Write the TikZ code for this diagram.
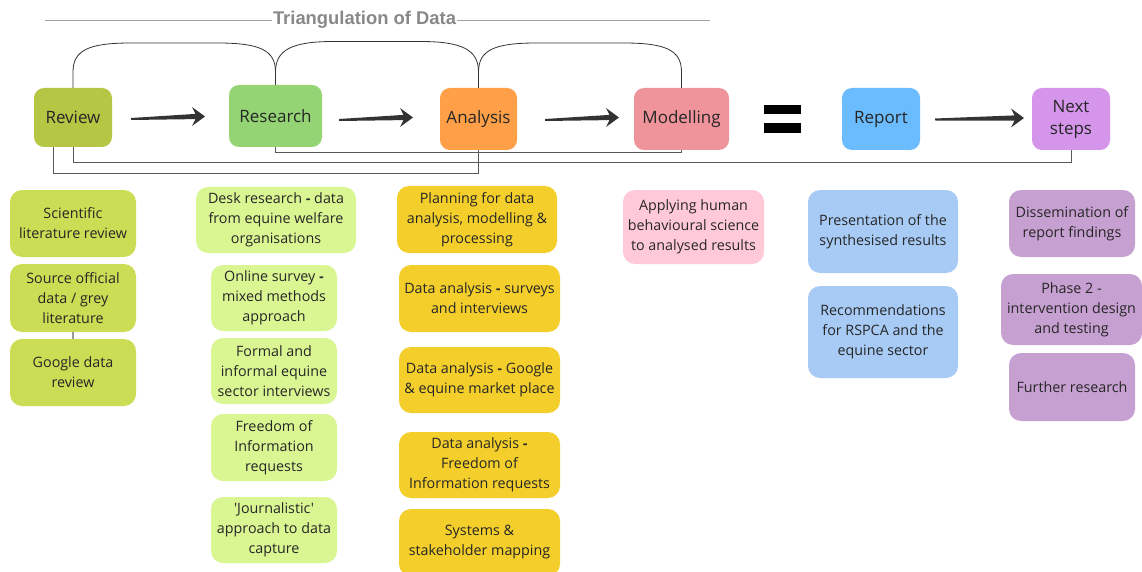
\documentclass[tikz,border=0pt]{standalone}
\usepackage{fontspec}
\setmainfont{Open Sans}[Ligatures=TeXOff]
\newfontfamily\titlefont{Liberation Sans}
\newcommand\hy{{\titlefont\bfseries -}}
\usetikzlibrary{calc}

\definecolor{txt}{HTML}{262626}
\definecolor{cReview}{HTML}{B4C644}
\definecolor{cResearch}{HTML}{94D474}
\definecolor{cAnalysis}{HTML}{FF9F47}
\definecolor{cModel}{HTML}{F0949B}
\definecolor{cReport}{HTML}{6BBCFF}
\definecolor{cNext}{HTML}{D595EA}
\definecolor{sLime}{HTML}{CBDD54}
\definecolor{sGreen}{HTML}{DAF693}
\definecolor{sGold}{HTML}{F4CF2B}
\definecolor{sPink}{HTML}{FFC9D7}
\definecolor{sBlue}{HTML}{A8CBF5}
\definecolor{sPurple}{HTML}{C7A0D2}
\definecolor{arrowc}{HTML}{333333}
\definecolor{titlec}{HTML}{888888}

% tapered block arrow between two named coordinates
\newcommand\fatarrow[2]{%
  \fill[arrowc] ($(#1)+(0,-1)$) -- ($(#2)+(-9.5,-2.6)$) -- ($(#2)+(-13,-9.5)$)
    -- (#2) -- ($(#2)+(-13,9.5)$) -- ($(#2)+(-9.5,2.6)$) -- ($(#1)+(0,1)$) -- cycle;}

% arched link over the top of two stage boxes, #3 = height of the arch
\newcommand\toparc[3]{%
  \draw[arcline] (#1.north) -- ($(#1.north |- 0,72)$)
    .. controls ($(#1.north |- 0,50)$) and ($(#1.north |- 0,#3)+(16,0)$) .. ($(#1.north |- 0,#3)+(58,0)$)
    -- ($(#2.north |- 0,#3)+(-58,0)$)
    .. controls ($(#2.north |- 0,#3)+(-16,0)$) and ($(#2.north |- 0,50)$) .. ($(#2.north |- 0,72)$)
    -- (#2.north);}

\begin{document}
\begin{tikzpicture}[x=1pt,y=-1pt,
  stage/.style={rounded corners=10pt, inner sep=0pt, align=center, text=txt,
    font=\fontsize{17}{22}\selectfont},
  item/.style={rounded corners=12pt, inner sep=0pt, align=center, text=txt,
    font=\fontsize{14.3}{20}\selectfont},
  arcline/.style={draw=black!80, line width=0.8pt},
  baseline/.style={draw=black!65, line width=0.9pt},
  eqbar/.style={fill=black, inner sep=0pt, minimum width=37pt, minimum height=9.5pt}]

\clip (0,0) rectangle (1142,572);
\fill[white] (0,0) rectangle (1142,572);

% title rule
\coordinate (tl) at (45,20);
\coordinate (tr) at (710,20);
\draw[titlec!80, line width=0.9pt] (tl) -- (tr);
\node[fill=white, inner sep=1pt, text=titlec, font=\titlefont\bfseries\fontsize{18.4}{20}\selectfont]
  (title) at (364.5,20) {Triangulation of Data};

% stage boxes
\node[stage, fill=cReview, minimum width=78pt, minimum height=59pt] (review) at (73,117.5) {Review};
\node[stage, fill=cResearch, minimum width=93pt, minimum height=62pt] (research) at (275.5,116) {Research};
\node[stage, fill=cAnalysis, minimum width=77pt, minimum height=62pt] (analysis) at (478.5,119) {Analysis};
\node[stage, fill=cModel, minimum width=95pt, minimum height=62pt] (modelling) at (681.5,119) {Modelling};
\node[stage, fill=cReport, minimum width=78pt, minimum height=62pt] (report) at (881,119) {Report};
\node[stage, fill=cNext, minimum width=78pt, minimum height=62pt] (next) at (1071,119) {Next\\steps};

% equals sign
\node[eqbar] (eqa) at (782.5,109.5) {};
\node[eqbar] (eqb) at (782.5,128) {};

% arrows
\coordinate (ar1a) at (131,119);   \coordinate (ar1b) at (205,116.5);
\coordinate (ar2a) at (339,120);   \coordinate (ar2b) at (413,117.5);
\coordinate (ar3a) at (545,120);   \coordinate (ar3b) at (619,117.5);
\coordinate (ar4a) at (935,119.5); \coordinate (ar4b) at (1024,118);
\fatarrow{ar1a}{ar1b}
\fatarrow{ar2a}{ar2b}
\fatarrow{ar3a}{ar3b}
\fatarrow{ar4a}{ar4b}

% arches over the stages
\toparc{review}{research}{43}
\toparc{research}{analysis}{41.5}
\toparc{analysis}{modelling}{43}

% links below the stages
\draw[baseline] (research.south) |- ($(modelling.south)+(0,2)$) -- (modelling.south);
\draw[baseline] (review.south) |- ($(next.south)+(0,12)$) -- (next.south);
\draw[baseline] ($(review.south)+(-20,0)$) |- ($(analysis.south)+(0,23)$) -- (analysis.south);

% review items
\node[item, fill=sLime, minimum width=126pt, minimum height=67pt] (s1) at (73,223.5) {Scientific\\literature review};
\node[item, fill=sLime, minimum width=126pt, minimum height=68pt] (s2) at (73,298) {Source official\\data / grey\\literature};
\node[item, fill=sLime, minimum width=126pt, minimum height=67pt] (s3) at (73,372.5) {Google data\\review};
\draw[black!40, line width=1.5pt] (s2.south) -- (s3.north);

% research items
\node[item, fill=sGreen, minimum width=160pt, minimum height=66pt] (r1) at (276,220) {Desk research \hy{} data\\from equine welfare\\organisations};
\node[item, fill=sGreen, minimum width=126pt, minimum height=66pt] (r2) at (274,298) {Online survey \hy\\mixed methods\\approach};
\node[item, fill=sGreen, minimum width=126pt, minimum height=66pt] (r3) at (274,371) {Formal and\\informal equine\\sector interviews};
\node[item, fill=sGreen, minimum width=126pt, minimum height=67pt] (r4) at (274,447.5) {Freedom of\\Information\\requests};
\node[item, fill=sGreen, minimum width=126pt, minimum height=66pt] (r5) at (274,530) {'Journalistic'\\approach to data\\capture};

% analysis items
\node[item, fill=sGold, minimum width=160pt, minimum height=67pt] (a1) at (477,219.5) {Planning for data\\analysis, modelling \&\\processing};
\node[item, fill=sGold, minimum width=161pt, minimum height=67pt] (a2) at (479.5,298.5) {Data analysis \hy{} surveys\\and interviews};
\node[item, fill=sGold, minimum width=161pt, minimum height=66pt] (a3) at (479.5,380) {Data analysis \hy{} Google\\\& equine market place};
\node[item, fill=sGold, minimum width=161pt, minimum height=66pt] (a4) at (479.5,465) {Data analysis \hy\\Freedom of\\Information requests};
\node[item, fill=sGold, minimum width=161pt, minimum height=67pt] (a5) at (479.5,542.5) {Systems \&\\stakeholder mapping};

% modelling item
\node[item, fill=sPink, minimum width=141pt, minimum height=74pt] (m1) at (693.5,227) {Applying human\\behavioural science\\to analysed results};

% report items
\node[item, fill=sBlue, minimum width=150pt, minimum height=83pt] (p1) at (883,231.5) {Presentation of the\\synthesised results};
\node[item, fill=sBlue, minimum width=150pt, minimum height=92pt] (p2) at (883,332) {Recommendations\\for RSPCA and the\\equine sector};

% next-step items
\node[item, fill=sPurple, minimum width=126pt, minimum height=67pt] (n1) at (1072,223.5) {Dissemination of\\report findings};
\node[item, fill=sPurple, minimum width=141pt, minimum height=71pt] (n2) at (1071.5,309.5) {Phase 2 -\\intervention design\\and testing};
\node[item, fill=sPurple, minimum width=126pt, minimum height=68pt] (n3) at (1072,387) {Further research};

\end{tikzpicture}
\end{document}
